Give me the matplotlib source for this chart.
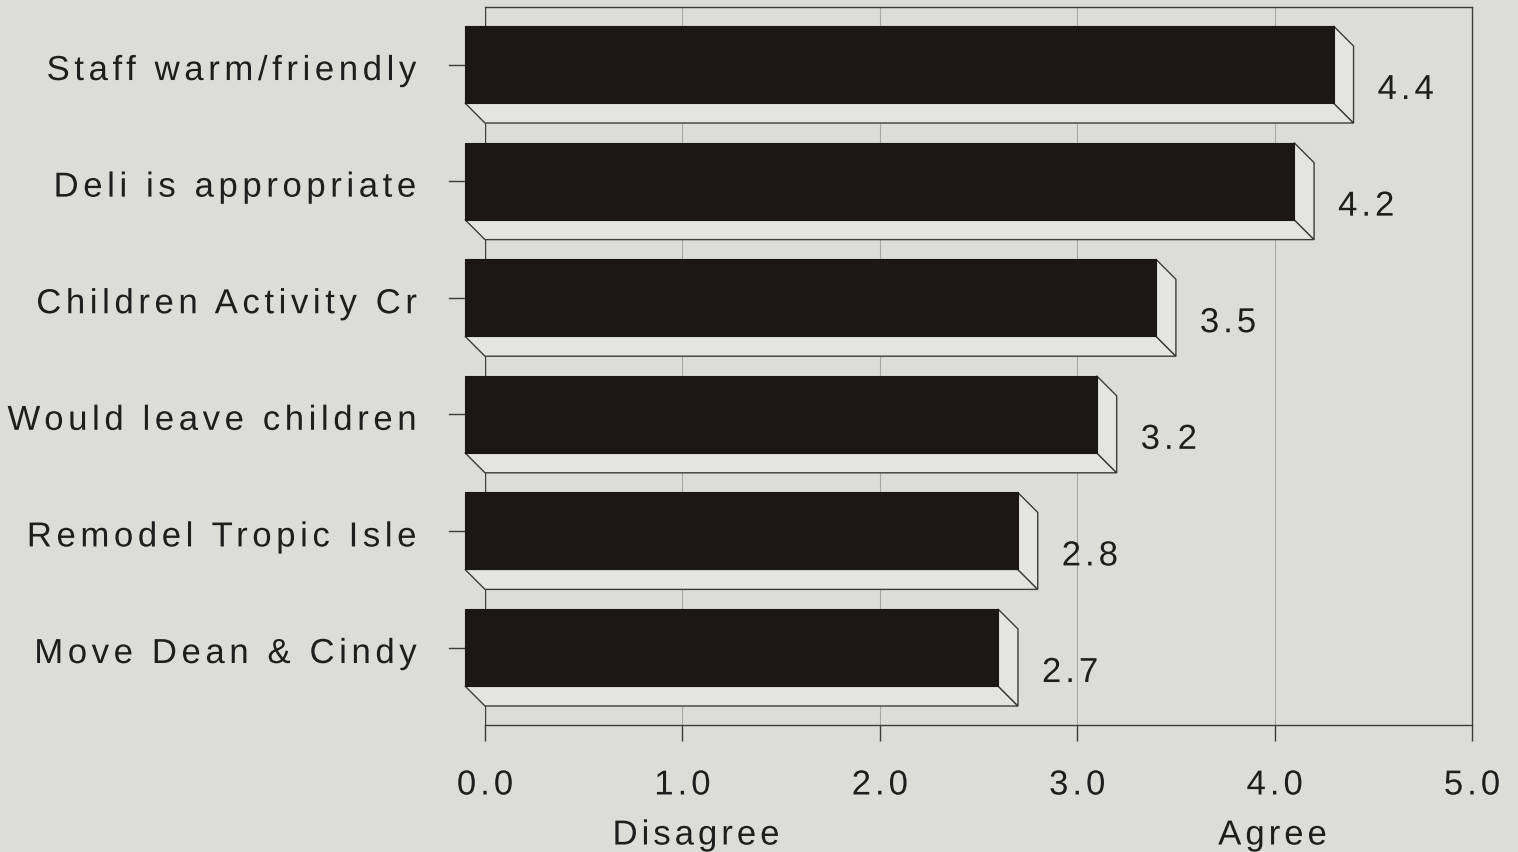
import matplotlib
matplotlib.use("Agg")
import matplotlib.pyplot as plt
from matplotlib.patches import Rectangle, Polygon
from matplotlib.patheffects import AbstractPathEffect
from matplotlib.textpath import text_to_path
from matplotlib.path import Path

plt.rcParams['font.family'] = ['Liberation Sans', 'DejaVu Sans']

# Mean ratings, top bar first
statements = ['Staff warm/friendly', 'Deli is appropriate', 'Children Activity Cr',
              'Would leave children', 'Remodel Tropic Isle', 'Move Dean & Cindy']
means = [4.4, 4.2, 3.5, 3.2, 2.8, 2.7]
xticks = [0.0, 1.0, 2.0, 3.0, 4.0, 5.0]
scale_ends = [(1.07, 'Disagree'), (3.99, 'Agree')]

bg = '#dcdcd8'
face_light = '#e4e4e0'
bar_col = '#1b1713'
edge = '#3c3c3c'
ink = '#1e1e1e'
FS = 25


class Tracking(AbstractPathEffect):
    """Spread the glyphs of a text apart by a fixed number of pixels."""

    def __init__(self, text, track, ha):
        super().__init__()
        s = text.get_text()
        prop = text.get_fontproperties()
        self._ends = [len(text_to_path.get_text_path(prop, s[:i + 1])[0])
                      for i in range(len(s))]
        self._track = track
        n = len(s) - 1
        self._k = {'left': 0, 'center': n / 2, 'right': n}[ha]

    def draw_path(self, renderer, gc, tpath, affine, rgbFace=None):
        verts = tpath.vertices.copy()
        scale = affine.get_matrix()[0, 0]
        start = 0
        for i, end in enumerate(self._ends):
            verts[start:end, 0] += (i - self._k) * self._track / scale
            start = end
        renderer.draw_path(gc, Path(verts, tpath.codes), affine, rgbFace)


def spaced(txt, ha, track=4.0):
    txt.set_path_effects([Tracking(txt, track, ha)])
    return txt


W, H, DPI = 1518, 853, 100
fig = plt.figure(figsize=(W / DPI, H / DPI), dpi=DPI, facecolor=bg)
# back wall of the plot, in pixels
left, right, top, bottom = 485, 1472, 8, 726
ax = fig.add_axes([left / W, (H - bottom) / H, (right - left) / W, (bottom - top) / H])
ax.set_facecolor(bg)

n = len(means)
ypos = list(range(n - 1, -1, -1))
ax.set_xlim(0, 5)
ax.set_ylim(-0.493, n - 1 + 0.665)

# depth of the 3d effect, 20 px left and up
px_x = (right - left) / 5.0
px_y = (bottom - top) / (n - 1 + 0.665 + 0.493)
dx = 20 / px_x
dy = 20 / px_y
h = 0.66

for g in xticks[1:-1]:
    ax.axvline(g, color='#a8a8a6', lw=0.8, zorder=1)

for y, v, lab in zip(ypos, means, statements):
    yb = y - h / 2
    yt = y + h / 2
    bot = Polygon([(-dx, yb + dy), (v - dx, yb + dy), (v, yb), (0, yb)], closed=True,
                  facecolor=face_light, edgecolor=edge, lw=1.0, clip_on=False, zorder=3)
    side = Polygon([(v - dx, yb + dy), (v - dx, yt + dy), (v, yt), (v, yb)], closed=True,
                   facecolor=face_light, edgecolor=edge, lw=1.0, clip_on=False, zorder=3)
    front = Rectangle((-dx, yb + dy), v, h, facecolor=bar_col, edgecolor=bar_col,
                      lw=0.8, clip_on=False, zorder=4)
    ax.add_patch(bot)
    ax.add_patch(side)
    ax.add_patch(front)
    spaced(ax.annotate(f'{v:.1f}', xy=(v, y), xytext=(24, -5), textcoords='offset pixels',
                       ha='left', va='center', fontsize=FS, color=ink, zorder=5), 'left')
    # category tick on the front plane
    ax.plot([-dx - 16 / px_x, -dx], [y + dy, y + dy], color=edge, lw=1.0,
            clip_on=False, zorder=2)
    spaced(ax.annotate(lab, xy=(-dx, y + dy), xytext=(-48, -6), textcoords='offset pixels',
                       ha='right', va='center', fontsize=FS, color=ink,
                       annotation_clip=False), 'right', 4.6)

ax.set_yticks([])
ax.spines['left'].set_visible(False)
ax.axvline(0, color=edge, lw=1.0, zorder=2)
for s in ['top', 'right', 'bottom']:
    ax.spines[s].set_color(edge)
    ax.spines[s].set_linewidth(1.0)

ax.set_xticks(xticks)
ax.set_xticklabels([])
ax.tick_params(axis='x', length=11.5, width=1.0, color=edge)
for t in xticks:
    spaced(ax.annotate(f'{t:.1f}', xy=(t, 0), xycoords=('data', 'axes fraction'),
                       xytext=(0, -60), textcoords='offset pixels', annotation_clip=False,
                       ha='center', va='center', fontsize=FS, color=ink), 'center')

for xv, txt in scale_ends:
    spaced(ax.annotate(txt, xy=(xv, 0), xycoords=('data', 'axes fraction'),
                       xytext=(0, -110), textcoords='offset pixels', annotation_clip=False,
                       ha='center', va='center', fontsize=FS, color=ink), 'center')

fig.savefig('out.png', dpi=DPI, facecolor=bg)
